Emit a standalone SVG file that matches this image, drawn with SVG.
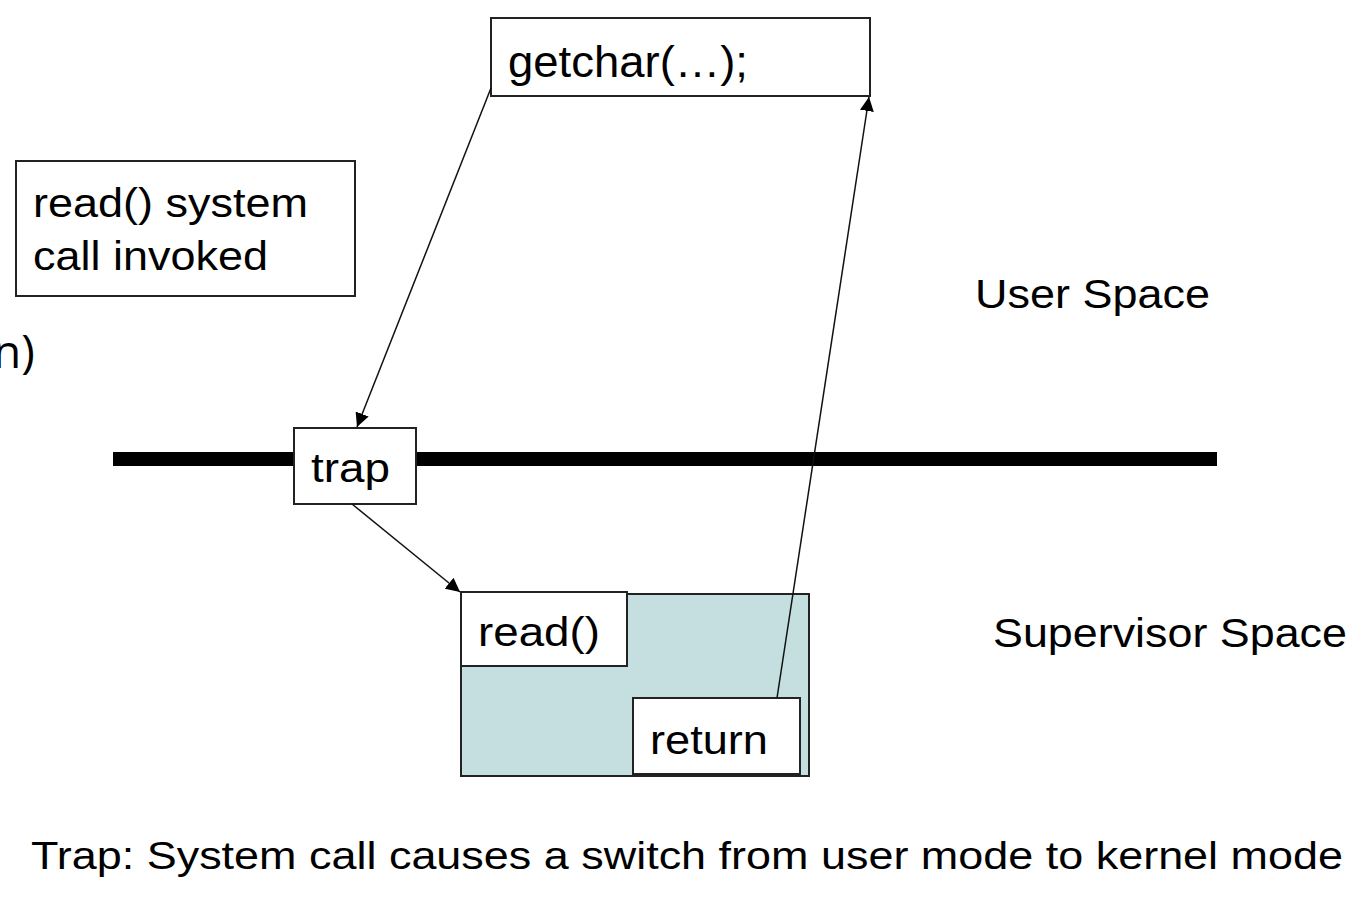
<svg xmlns="http://www.w3.org/2000/svg" width="1362" height="908" viewBox="0 0 1362 908">
<style>
.box{fill:#fff;stroke:#222;stroke-width:2}
.t{font-family:"Liberation Sans",Arial,sans-serif;fill:#000}
.c{stroke:#111;stroke-width:1.5;fill:none;marker-end:url(#ah)}
</style>
<defs>
<marker id="ah" viewBox="0 0 10 10" refX="10" refY="5" markerWidth="14" markerHeight="14" markerUnits="userSpaceOnUse" orient="auto">
<path d="M0,0 L10,5 L0,10 z" fill="#000"/>
</marker>
</defs>
<rect width="1362" height="908" fill="#fff"/>
<text x="-7" y="368" font-family="'Open Sans','Noto Sans',sans-serif" font-size="46" fill="#000">n)</text>
<line x1="113" y1="459" x2="1217" y2="459" stroke="#000" stroke-width="14"/>
<g id="note"><rect class="box" x="16" y="161" width="339" height="135"/>
<text class="t" x="33" y="217" font-size="41" textLength="275" lengthAdjust="spacingAndGlyphs">read() system</text>
<text class="t" x="33" y="270" font-size="41" textLength="235" lengthAdjust="spacingAndGlyphs">call invoked</text></g>
<g id="getchar"><rect class="box" x="491" y="18" width="379" height="78"/>
<text class="t" x="508" y="77" font-size="45" textLength="240" lengthAdjust="spacingAndGlyphs">getchar(…);</text></g>
<g id="trap"><rect class="box" x="294" y="428" width="122" height="76"/>
<text class="t" x="311" y="482" font-size="41" textLength="79" lengthAdjust="spacingAndGlyphs">trap</text></g>
<g id="kernel"><rect x="461" y="594" width="348" height="182" fill="#c5dfe1" stroke="#222" stroke-width="2"/></g>
<g id="read"><rect class="box" x="461" y="592" width="166" height="74"/>
<text class="t" x="478" y="646" font-size="41" textLength="122" lengthAdjust="spacingAndGlyphs">read()</text></g>
<g id="return"><rect class="box" x="633" y="698" width="167" height="76"/>
<text class="t" x="650" y="754" font-size="41" textLength="118" lengthAdjust="spacingAndGlyphs">return</text></g>
<g id="connectors">
<line class="c" x1="491" y1="88" x2="357" y2="427"/>
<line class="c" x1="352" y1="504" x2="460" y2="592"/>
<line class="c" x1="777" y1="698" x2="869" y2="97"/>
</g>
<text class="t" x="975" y="308" font-size="41" textLength="235" lengthAdjust="spacingAndGlyphs">User Space</text>
<text class="t" x="993" y="647" font-size="41" textLength="354" lengthAdjust="spacingAndGlyphs">Supervisor Space</text>
<text class="t" x="31" y="869" font-size="38" textLength="1312" lengthAdjust="spacingAndGlyphs">Trap: System call causes a switch from user mode to kernel mode</text>
</svg>
